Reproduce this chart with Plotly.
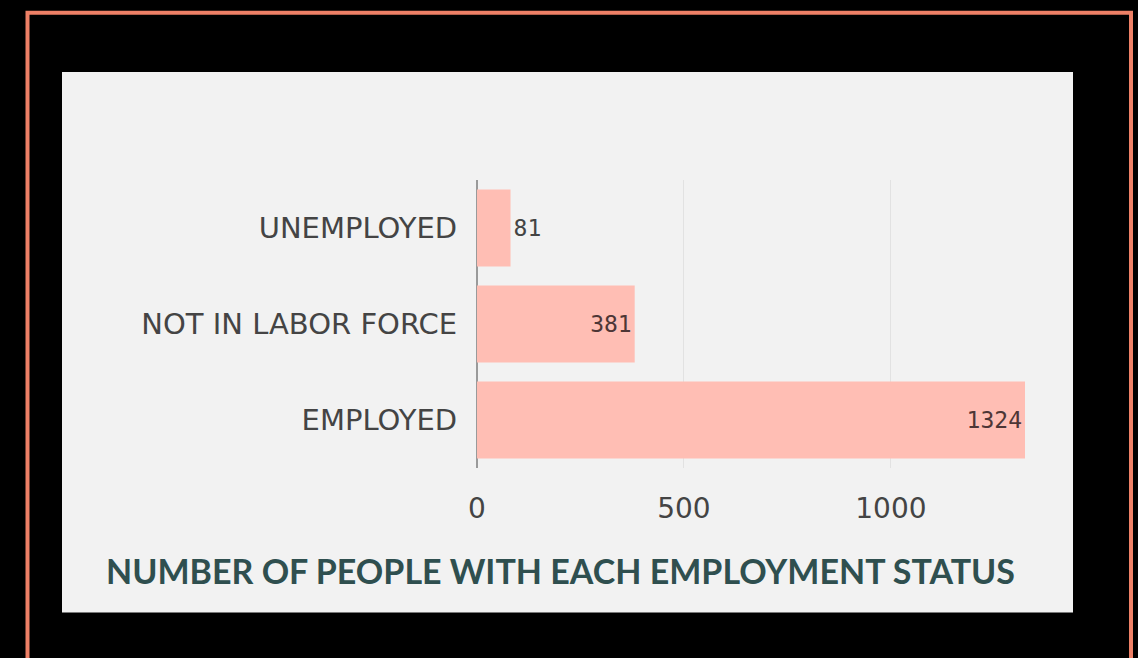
import plotly.graph_objects as go

# Employment status counts
statuses = ["EMPLOYED", "NOT IN LABOR FORCE", "UNEMPLOYED"]
counts = [1324, 381, 81]
label_positions = ["inside", "inside", "outside"]
x_ticks = [0, 500, 1000]
title_text = "NUMBER OF PEOPLE WITH EACH EMPLOYMENT STATUS"

W, H = 1138, 658
L, R, T, B = 477, 113, 180, 190
pw, ph = W - L - R, H - T - B


def px_x(px):
    return (px - L) / pw


def px_y(py):
    return (H - B - py) / ph


fig = go.Figure(
    go.Bar(
        x=counts,
        y=statuses,
        orientation="h",
        marker=dict(color="#FFBEB4", line=dict(width=0)),
        text=[str(c) for c in counts],
        textposition=label_positions,
        insidetextanchor="end",
        textangle=0,
        insidetextfont=dict(family="DejaVu Sans Mono", size=23, color="#4d3636"),
        outsidetextfont=dict(family="DejaVu Sans Mono", size=23, color="#444444"),
        cliponaxis=False,
    )
)

fig.update_layout(
    width=W,
    height=H,
    margin=dict(l=L, r=R, t=T, b=B, pad=0),
    paper_bgcolor="#000000",
    plot_bgcolor="#F2F2F2",
    bargap=0.2,
    showlegend=False,
    font=dict(family="DejaVu Sans", color="#444444"),
    xaxis=dict(
        range=[0, max(counts)],
        tickvals=x_ticks,
        tickfont=dict(family="DejaVu Sans", size=28, color="#444444"),
        showgrid=True,
        gridcolor="#E2E2E2",
        gridwidth=1,
        zeroline=True,
        zerolinecolor="#9A9A9A",
        zerolinewidth=2,
        showline=False,
        ticks="outside",
        ticklen=15,
        tickcolor="rgba(0,0,0,0)",
        fixedrange=True,
    ),
    yaxis=dict(
        tickfont=dict(family="DejaVu Sans", size=29, color="#444444"),
        showgrid=False,
        showline=False,
        ticks="outside",
        ticklen=13,
        tickcolor="rgba(0,0,0,0)",
        fixedrange=True,
    ),
    shapes=[
        # light panel behind the chart
        dict(
            type="rect", xref="paper", yref="paper", layer="below",
            x0=px_x(62), x1=px_x(1073), y0=px_y(612.5), y1=px_y(72),
            fillcolor="#F2F2F2", line=dict(width=0),
        ),
        # coral frame
        dict(
            type="rect", xref="paper", yref="paper", layer="below",
            x0=px_x(27.5), x1=px_x(1131), y0=px_y(680), y1=px_y(12.7),
            fillcolor="rgba(0,0,0,0)", line=dict(color="#EE8066", width=4),
        ),
    ],
    annotations=[
        dict(
            text=f"<b>{title_text}</b>",
            xref="paper", yref="paper",
            x=px_x(560), y=px_y(570),
            xanchor="center", yanchor="middle",
            showarrow=False,
            font=dict(family="Lato", size=34, color="#2F4F4F"),
        )
    ],
)

fig.write_html("out.html")
